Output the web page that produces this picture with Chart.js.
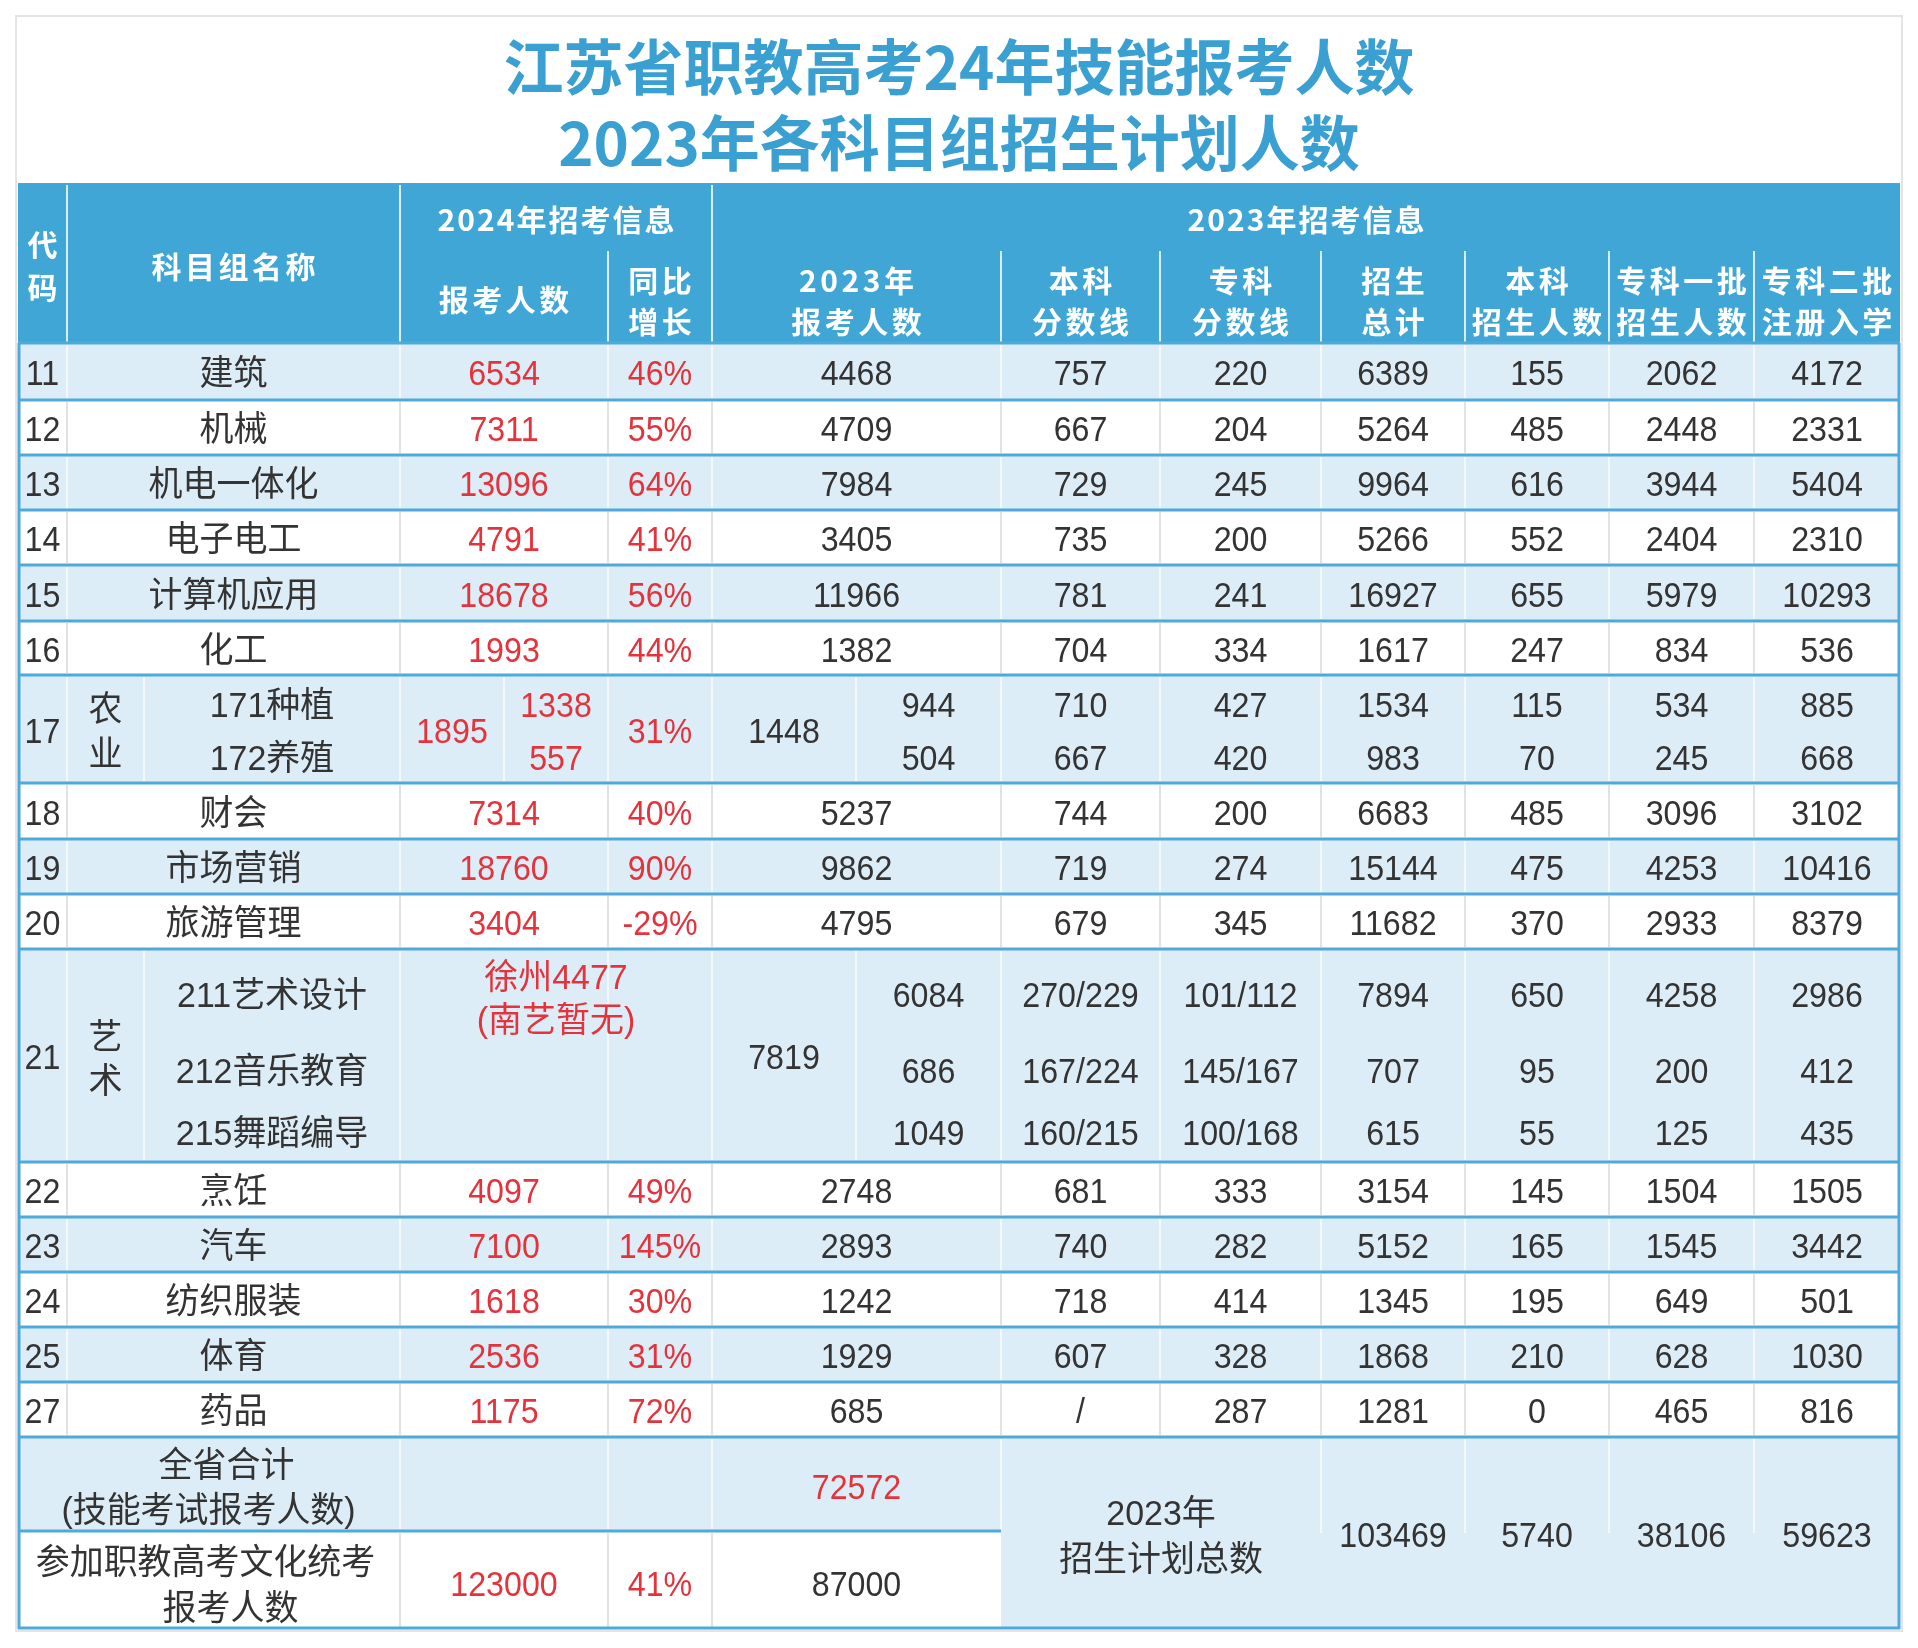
<!DOCTYPE html>
<html lang="zh-CN">
<head>
<meta charset="utf-8">
<title>江苏省职教高考24年技能报考人数</title>
<script src="https://cdn.jsdelivr.net/npm/chart.js@4.4.1/dist/chart.umd.min.js"></script>
<style>
  html, body { margin: 0; padding: 0; background: #fff; }
  canvas { display: block; }
</style>
</head>
<body>
<canvas id="sheet" width="1918" height="1648"></canvas>
<script>
// ---- data ----
const titleLines = ['江苏省职教高考24年技能报考人数', '2023年各科目组招生计划人数'];
const headGroups = ['2024年招考信息', '2023年招考信息'];
const headCols = [['报考人数'], ['同比', '增长'], ['2023年', '报考人数'], ['本科', '分数线'], ['专科', '分数线'],
  ['招生', '总计'], ['本科', '招生人数'], ['专科一批', '招生人数'], ['专科二批', '注册入学']];

const codes = ['11', '12', '13', '14', '15', '16', '17', '18', '19', '20', '21', '22', '23', '24', '25', '27'];
const groups = ['建筑', '机械', '机电一体化', '电子电工', '计算机应用', '化工', '农业', '财会', '市场营销', '旅游管理',
  '艺术', '烹饪', '汽车', '纺织服装', '体育', '药品'];
const subGroups = { 6: ['171种植', '172养殖'], 10: ['211艺术设计', '212音乐教育', '215舞蹈编导'] };

const apply2024 = [6534, 7311, 13096, 4791, 18678, 1993, 1895, 7314, 18760, 3404, null, 4097, 7100, 1618, 2536, 1175];
const apply2024Sub = { 6: [1338, 557] };
const artNote = ['徐州4477', '(南艺暂无)'];
const growth = ['46%', '55%', '64%', '41%', '56%', '44%', '31%', '40%', '90%', '-29%', '', '49%', '145%', '30%', '31%', '72%'];
const apply2023 = [4468, 4709, 7984, 3405, 11966, 1382, 1448, 5237, 9862, 4795, 7819, 2748, 2893, 1242, 1929, 685];
const apply2023Sub = { 6: [944, 504], 10: [6084, 686, 1049] };
const bkScore = [757, 667, 729, 735, 781, 704, [710, 667], 744, 719, 679, ['270/229', '167/224', '160/215'], 681, 740, 718, 607, '/'];
const zkScore = [220, 204, 245, 200, 241, 334, [427, 420], 200, 274, 345, ['101/112', '145/167', '100/168'], 333, 282, 414, 328, 287];
const planTotal = [6389, 5264, 9964, 5266, 16927, 1617, [1534, 983], 6683, 15144, 11682, [7894, 707, 615], 3154, 5152, 1345, 1868, 1281];
const bkPlan = [155, 485, 616, 552, 655, 247, [115, 70], 485, 475, 370, [650, 95, 55], 145, 165, 195, 210, 0];
const zk1Plan = [2062, 2448, 3944, 2404, 5979, 834, [534, 245], 3096, 4253, 2933, [4258, 200, 125], 1504, 1545, 649, 628, 465];
const zk2Reg = [4172, 2331, 5404, 2310, 10293, 536, [885, 668], 3102, 10416, 8379, [2986, 412, 435], 1505, 3442, 501, 1030, 816];

const skillLabel = ['全省合计', '(技能考试报考人数)'];
const skillTotal2023 = 72572;
const cultureLabel = ['参加职教高考文化统考', '报考人数'];
const cultureApply2024 = 123000;
const cultureGrowth = '41%';
const cultureApply2023 = 87000;
const planSumLabel = ['2023年', '招生计划总数'];
const planSum = [103469, 5740, 38106, 59623];

// ---- layout (table units, 1 unit = 1px) ----
const colEdges = [0, 49, 382, 590, 694, 983, 1142, 1303, 1447, 1591, 1736, 1882];
const nameSplit = 126, applySplit = 486, prevSplit = 838;
const headMid = 68, headBottom = 160;
const rowHeights = [57, 55, 55, 55, 56, 54, 108, 56, 55, 55, 213, 55, 55, 55, 55, 55];
const totalHeights = [94, 98];
const subLineOffsets = { 6: [28, 81], 10: [44, 120, 182] };
const groupCharOffsets = { 6: [32, 77], 10: [86, 130] };
const noteOffsets = [26, 69];

const C = {
  head: '#40a6d6', stripe: '#ddedf7', hline: '#4fa9db', title: '#3aa0d2',
  red: '#e3343d', ink: '#333333', vLight: '#f4f8fb', vGray: '#e2e2e2'
};

const mid = (a, b) => (a + b) / 2;
const colMid = i => mid(colEdges[i], colEdges[i + 1]);

const rowTops = [];
let acc = headBottom;
rowHeights.forEach(h => { rowTops.push(acc); acc += h; });
const totalTop = acc;
const tableBottom = totalTop + totalHeights[0] + totalHeights[1];

// ---- cell texts, anchored in scale units ----
const cells = [];
function addCell(t, x, y, kind) {
  if (t === null || t === undefined || t === '') return;
  cells.push({ x, y, t: String(t), kind });
}

addCell('代', colMid(0), 62, 'head2');
addCell('码', colMid(0), 105, 'head2');
addCell('科目组名称', colMid(1), 84, 'head2');
addCell(headGroups[0], mid(colEdges[2], colEdges[4]), 37, 'head1');
addCell(headGroups[1], mid(colEdges[4], colEdges[11]), 37, 'head1');
headCols.forEach((lines, k) => {
  const cx = colMid(k + 2);
  if (lines.length === 1) addCell(lines[0], cx, 117, 'head2');
  else { addCell(lines[0], cx, 98, 'head2'); addCell(lines[1], cx, 139, 'head2'); }
});

rowHeights.forEach((h, i) => {
  const top = rowTops[i], cy = top + h / 2;
  const subs = subLineOffsets[i];
  addCell(codes[i], colMid(0), cy, 'ink');
  if (subGroups[i]) {
    groups[i].split('').forEach((ch, k) => addCell(ch, mid(colEdges[1], nameSplit), top + groupCharOffsets[i][k], 'ink'));
    subGroups[i].forEach((s, k) => addCell(s, mid(nameSplit, colEdges[2]), top + subs[k], 'ink'));
  } else {
    addCell(groups[i], colMid(1), cy, 'ink');
  }
  if (apply2024Sub[i]) {
    addCell(apply2024[i], mid(colEdges[2], applySplit), cy, 'red');
    apply2024Sub[i].forEach((v, k) => addCell(v, mid(applySplit, colEdges[3]), top + subs[k], 'red'));
  } else if (apply2024[i] === null) {
    artNote.forEach((s, k) => addCell(s, mid(applySplit, colEdges[3]), top + noteOffsets[k], 'red'));
  } else {
    addCell(apply2024[i], colMid(2), cy, 'red');
  }
  addCell(growth[i], colMid(3), cy, 'red');
  if (apply2023Sub[i]) {
    addCell(apply2023[i], mid(colEdges[4], prevSplit), cy, 'ink');
    apply2023Sub[i].forEach((v, k) => addCell(v, mid(prevSplit, colEdges[5]), top + subs[k], 'ink'));
  } else {
    addCell(apply2023[i], colMid(4), cy, 'ink');
  }
  [bkScore, zkScore, planTotal, bkPlan, zk1Plan, zk2Reg].forEach((arr, c) => {
    const v = arr[i];
    if (Array.isArray(v)) v.forEach((s, k) => addCell(s, colMid(c + 5), top + subs[k], 'ink'));
    else addCell(v, colMid(c + 5), cy, 'ink');
  });
});

// totals
const t0 = totalTop, t1 = totalTop + totalHeights[0];
addCell(skillLabel[0], colMid(1) - 7, t0 + 26, 'ink');
addCell(skillLabel[1], colMid(1) - 25, t0 + 71, 'ink');
addCell(skillTotal2023, colMid(4), t0 + 48, 'red');
addCell(cultureLabel[0], colMid(1) - 28, t1 + 29, 'ink');
addCell(cultureLabel[1], colMid(1) - 3, t1 + 75, 'ink');
addCell(cultureApply2024, colMid(2), t1 + 51, 'red');
addCell(cultureGrowth, colMid(3), t1 + 51, 'red');
addCell(cultureApply2023, colMid(4), t1 + 51, 'ink');
addCell(planSumLabel[0], mid(colEdges[5], colEdges[7]), t0 + 74, 'ink');
addCell(planSumLabel[1], mid(colEdges[5], colEdges[7]), t0 + 120, 'ink');
planSum.forEach((v, k) => addCell(v, colMid(k + 7), t0 + 96, 'ink'));

const hasCJK = s => /[\u3400-\u9fff]/.test(s);
const textStyle = {
  ink: { color: C.ink, size: 35, weight: 'normal', ls: 0, dy: 4 },
  red: { color: C.red, size: 35, weight: 'normal', ls: 0, dy: 4 },
  head1: { color: '#ffffff', size: 30, weight: 'bold', ls: 2, dy: 0 },
  head2: { color: '#ffffff', size: 30, weight: 'bold', ls: 3.5, dy: 0 }
};

const tablePlugin = {
  id: 'tableGrid',
  beforeDatasetsDraw(chart) {
    const { ctx, chartArea: a } = chart;
    const sx = chart.scales.x, sy = chart.scales.y;
    const px = u => sx.getPixelForValue(u), py = u => sy.getPixelForValue(u);
    const fill = (x0, y0, x1, y1, color) => {
      ctx.fillStyle = color;
      ctx.fillRect(px(x0), py(y0), px(x1) - px(x0), py(y1) - py(y0));
    };
    const vline = (u, y0, y1, color, w) => {
      ctx.strokeStyle = color; ctx.lineWidth = w;
      ctx.beginPath(); ctx.moveTo(px(u), py(y0)); ctx.lineTo(px(u), py(y1)); ctx.stroke();
    };
    const hline = (u, x0, x1, color, w) => {
      ctx.strokeStyle = color; ctx.lineWidth = w;
      ctx.beginPath(); ctx.moveTo(px(x0), py(u)); ctx.lineTo(px(x1), py(u)); ctx.stroke();
    };
    const L = colEdges[0], R = colEdges[colEdges.length - 1];

    ctx.save();
    // card frame
    ctx.strokeStyle = '#e4e4e4'; ctx.lineWidth = 2;
    ctx.strokeRect(a.left - 2, 16, a.right - a.left + 4, a.bottom - 14);

    // header band
    fill(L, 0, R, headBottom, C.head);
    const hc = 'rgba(255,255,255,0.8)';
    [1, 2, 4].forEach(i => vline(colEdges[i], 2, headBottom, hc, 2));
    [3, 5, 6, 7, 8, 9, 10].forEach(i => vline(colEdges[i], headMid, headBottom, hc, 2));

    // body rows
    rowHeights.forEach((h, i) => {
      const top = rowTops[i], bot = top + h;
      const striped = i % 2 === 0;
      fill(L, top, R, bot, striped ? C.stripe : '#ffffff');
      const vc = striped ? C.vLight : C.vGray;
      const edges = colEdges.slice(1, -1).slice();
      if (subGroups[i]) edges.push(nameSplit);
      if (apply2024Sub[i]) edges.push(applySplit);
      if (apply2023Sub[i]) edges.push(prevSplit);
      edges.forEach(e => vline(e, top + 2, bot - 2, vc, 2));
    });

    // totals block
    const t0 = totalTop, t1 = totalTop + totalHeights[0];
    fill(L, t0, colEdges[5], t1, C.stripe);
    fill(L, t1, colEdges[5], tableBottom, '#ffffff');
    fill(colEdges[5], t0, R, tableBottom, C.stripe);
    [2, 3, 4].forEach(i => vline(colEdges[i], t0 + 2, t1 - 2, C.vLight, 2));
    [2, 3, 4].forEach(i => vline(colEdges[i], t1 + 2, tableBottom - 2, C.vGray, 2));
    vline(colEdges[5], t0 + 2, t1, C.vLight, 2);
    [7, 8, 9, 10].forEach(i => vline(colEdges[i], t0 + 2, t0 + 96, C.vLight, 2));

    // horizontal rules
    hline(headBottom, L, R, C.hline, 3);
    rowTops.slice(1).forEach(t => hline(t, L, R, C.hline, 3));
    hline(totalTop, L, R, C.hline, 3);
    hline(t1, L, colEdges[5], C.hline, 3);
    hline(tableBottom - 1, L, R, C.hline, 3);
    vline(L + 1, headBottom, tableBottom, C.hline, 3);
    vline(R - 1, headBottom, tableBottom, C.hline, 3);
    ctx.restore();
  },
  afterDatasetsDraw(chart) {
    const { ctx } = chart;
    const pts = chart.getDatasetMeta(0).data;
    ctx.save();
    ctx.textAlign = 'center';
    ctx.textBaseline = 'middle';
    cells.forEach((c, i) => {
      const st = textStyle[c.kind];
      const cjk = hasCJK(c.t);
      const fam = st.weight === 'bold' ? "'Noto Sans CJK SC', sans-serif" : "'Liberation Sans', 'Noto Sans CJK SC', sans-serif";
      ctx.font = `${st.weight} ${st.size}px ${fam}`;
      ctx.letterSpacing = st.ls + 'px';
      ctx.fillStyle = st.color;
      const scaleX = st.weight === 'bold' ? 1 : (cjk ? 0.97 : 0.92);
      ctx.save();
      ctx.translate(pts[i].x + st.ls / 2, pts[i].y + st.dy + (cjk ? 0 : 0));
      ctx.scale(scaleX, 1);
      ctx.fillText(c.t, 0, 0);
      ctx.restore();
    });
    ctx.restore();
  }
};

new Chart(document.getElementById('sheet'), {
  type: 'scatter',
  data: {
    datasets: [{
      data: cells.map(c => ({ x: c.x, y: c.y })),
      pointRadius: 0,
      pointHoverRadius: 0
    }]
  },
  options: {
    responsive: false,
    animation: false,
    events: [],
    layout: { padding: { left: 18, right: 18, top: 0, bottom: 19 } },
    plugins: {
      legend: { display: false },
      tooltip: { enabled: false },
      title: {
        display: true,
        text: titleLines,
        color: C.title,
        font: { family: "'Noto Sans CJK SC', sans-serif", size: 60, weight: 'bold', lineHeight: 1.267 },
        padding: { top: 29, bottom: 2 }
      }
    },
    scales: {
      x: { type: 'linear', min: colEdges[0], max: colEdges[colEdges.length - 1], display: false },
      y: { type: 'linear', min: 0, max: tableBottom, reverse: true, display: false }
    }
  },
  plugins: [tablePlugin]
});
</script>
</body>
</html>
